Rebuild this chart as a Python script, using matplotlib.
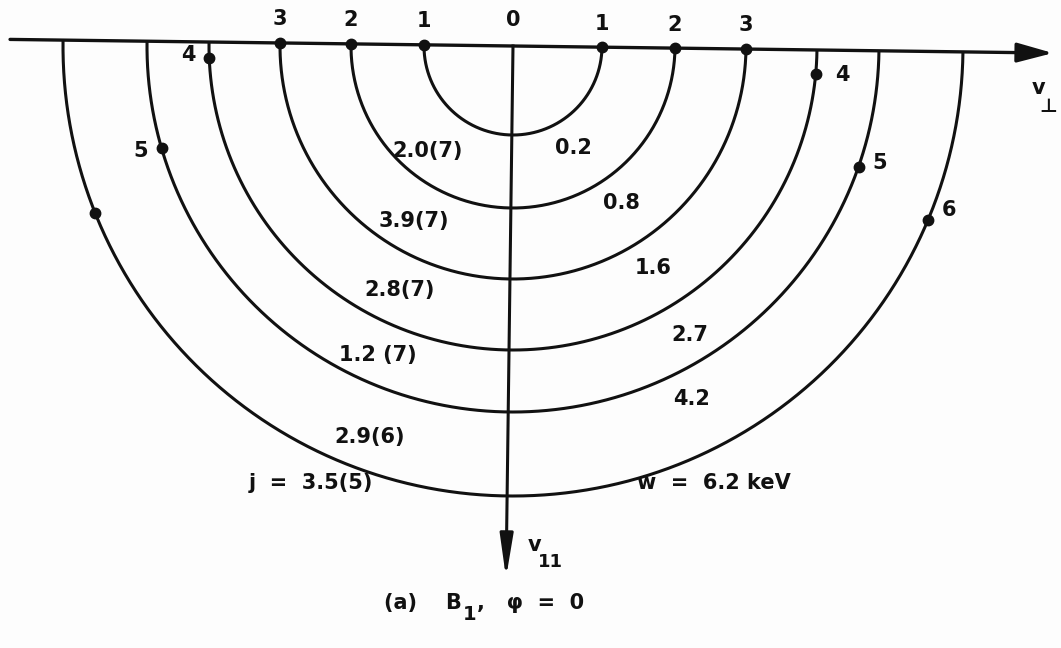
import numpy as np
import matplotlib.pyplot as plt

# contour radii, innermost first (sheet pixels)
radii = [89, 162, 233, 304, 366, 450]
# where the numbered dots sit: degrees below the v_perp axis
left_dot_deg = [0, 0, 0, 3.0, 17.0, 22.5]
right_dot_deg = [0, 0, 0, 4.5, 18.5, 22.0]
left_dot_names = ["1", "2", "3", "4", "5", ""]
right_dot_names = ["1", "2", "3", "4", "5", "6"]
# values written between neighbouring contours
left_values = ["2.0(7)", "3.9(7)", "2.8(7)", "1.2 (7)", "2.9(6)"]
right_values = ["0.2", "0.8", "1.6", "2.7", "4.2"]
j_text = "j  =  3.5(5)"
w_text = "w  =  6.2 keV"

# layout (sheet pixels, y downwards)
cx, cy = 513, 46
tilt = np.deg2rad(0.75)          # the scan is slightly rotated
left_val_pos = [(428, 151), (414, 221), (400, 290), (378, 355), (370, 437)]
right_val_pos = [(573, 148), (621, 203), (653, 268), (690, 335), (692, 399)]
left_name_off = [(0, 17), (0, 17), (0, 17), (-15, 2), (-15, -2), (0, 0)]
right_name_off = [(0, 17), (0, 17), (0, 17), (19, -1), (15, 3), (15, 7)]


def place(dx, dy):
    dx = np.asarray(dx, float)
    dy = np.asarray(dy, float)
    x = cx + dx * np.cos(tilt) - dy * np.sin(tilt)
    y = cy + dx * np.sin(tilt) + dy * np.cos(tilt)
    return x, y


plt.rcParams["font.family"] = ["DejaVu Sans"]
plt.rcParams["font.weight"] = "bold"

fig = plt.figure(figsize=(10.61, 6.48), dpi=100)
ax = fig.add_axes([0, 0, 1, 1])
ax.set_xlim(0, 1061)
ax.set_ylim(648, 0)
ax.axis("off")
fig.patch.set_facecolor("#fdfdfd")

ink = "#111111"
fs = 15

# semicircles
phi = np.linspace(0, np.pi, 400)
for r in radii:
    x, y = place(r * np.cos(phi), r * np.sin(phi))
    ax.plot(x, y, color=ink, lw=2.2, solid_capstyle="butt")

# v_perp axis
x, y = place([-503, 520], [0, 0])
ax.plot(x, y, color=ink, lw=2.4, solid_capstyle="round")
ax.annotate("", xy=place(540, 0), xytext=place(515, 0),
            arrowprops=dict(arrowstyle="-|>,head_length=1.1,head_width=0.3",
                            color=ink, lw=2.4, mutation_scale=20,
                            shrinkA=0, shrinkB=0))

# v_par axis
x, y = place([0, 0], [0, 510])
ax.plot(x, y, color=ink, lw=2.2)
ax.annotate("", xy=place(0, 532), xytext=place(0, 505),
            arrowprops=dict(arrowstyle="-|>,head_length=1.3,head_width=0.2",
                            color=ink, lw=2.2, mutation_scale=20,
                            shrinkA=0, shrinkB=0))

# numbered dots
for r, a, name, off in zip(radii, left_dot_deg, left_dot_names, left_name_off):
    t = np.deg2rad(a)
    p = place(-r * np.cos(t), r * np.sin(t))
    ax.plot(*p, "o", color=ink, ms=7.5)
    if name:
        ax.annotate(name, p, xytext=off, textcoords="offset points",
                    ha="center", va="center", fontsize=fs, color=ink)
for r, a, name, off in zip(radii, right_dot_deg, right_dot_names, right_name_off):
    t = np.deg2rad(a)
    p = place(r * np.cos(t), r * np.sin(t))
    ax.plot(*p, "o", color=ink, ms=7.5)
    ax.annotate(name, p, xytext=off, textcoords="offset points",
                ha="center", va="center", fontsize=fs, color=ink)
ax.text(*place(0, -26), "0", ha="center", va="center", fontsize=fs, color=ink)

# values between contours
for s, (px, py) in zip(left_values, left_val_pos):
    ax.text(px, py, s, ha="center", va="center", fontsize=fs, color=ink)
for s, (px, py) in zip(right_values, right_val_pos):
    ax.text(px, py, s, ha="center", va="center", fontsize=fs, color=ink)

ax.text(311, 483, j_text, ha="center", va="center", fontsize=fs, color=ink)
ax.text(714, 483, w_text, ha="center", va="center", fontsize=fs, color=ink)

# axis names
ax.text(1039, 88, "v", ha="center", va="center", fontsize=fs, color=ink)
ax.text(1048, 106, "⊥", ha="center", va="center", fontsize=14, color=ink)
ax.text(534, 545, "v", ha="center", va="center", fontsize=fs, color=ink)
ax.text(550, 562, "11", ha="center", va="center", fontsize=13, color=ink)

# caption
ax.text(462, 603, "(a)    B", ha="right", va="center", fontsize=fs, color=ink)
ax.text(470, 615, "1", ha="center", va="center", fontsize=14, color=ink)
ax.text(477, 603, ",   φ  =  0", ha="left", va="center", fontsize=fs, color=ink)

fig.savefig("out.png", dpi=100, facecolor=fig.get_facecolor())
